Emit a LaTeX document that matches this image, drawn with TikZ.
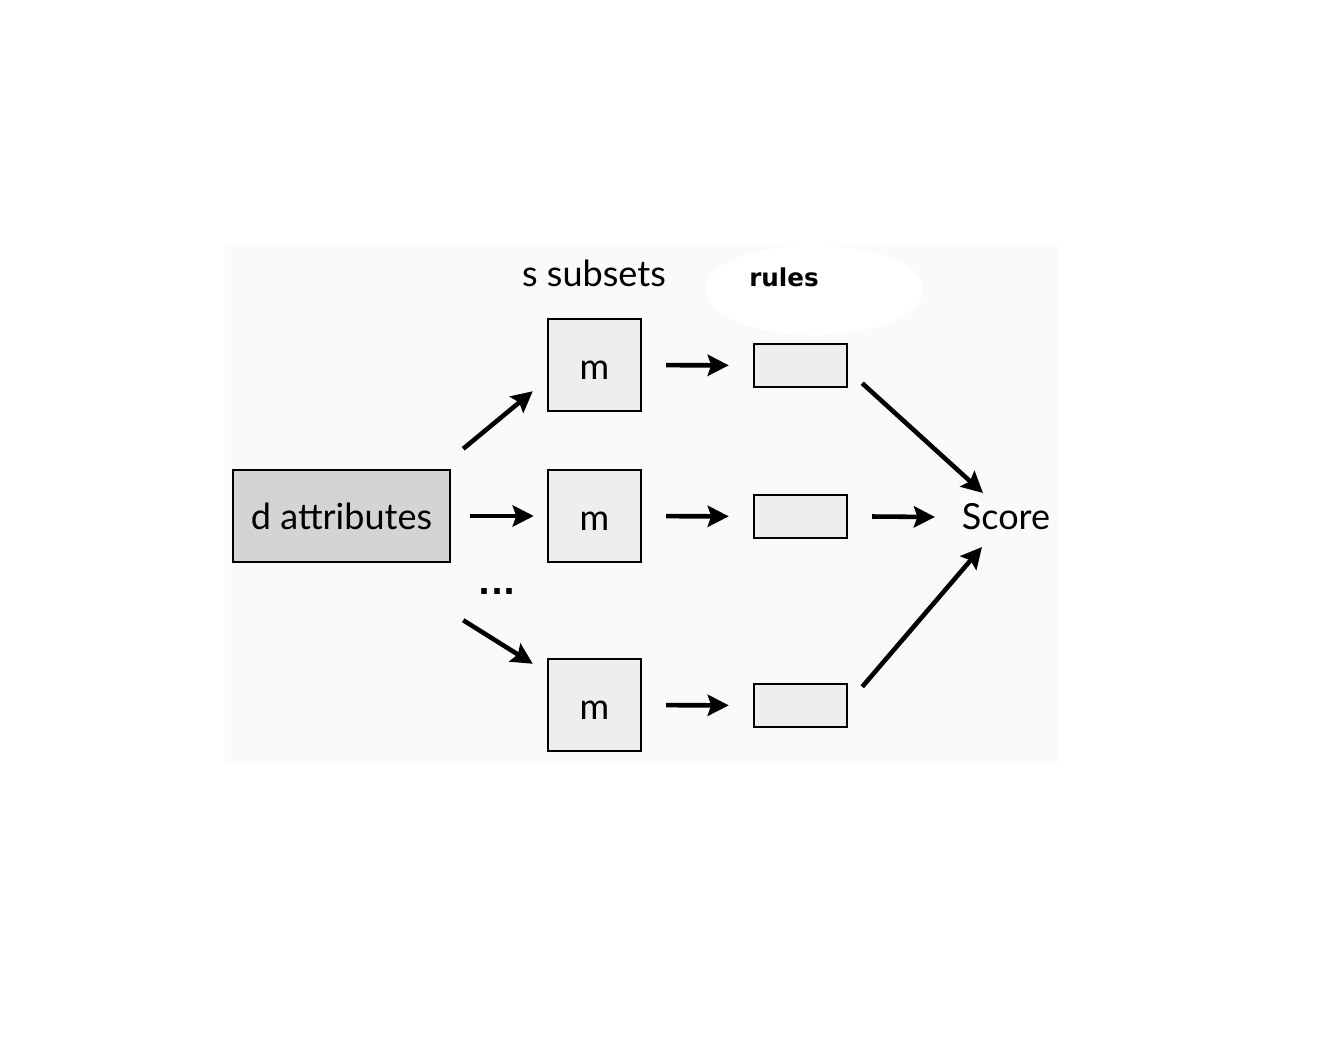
\documentclass[tikz,border=0pt]{standalone}
\usepackage{fontspec}
\setmainfont{Lato}
\newfontfamily\rulesfont{DejaVu Sans}
\usetikzlibrary{arrows.meta}
\definecolor{attrGray}{HTML}{D4D4D4}
\definecolor{boxGray}{HTML}{EEEDF0}
\definecolor{panelGray}{HTML}{FAFAFA}
\tikzstyle{recNode} = [rectangle, minimum width=1.86cm, minimum height=1.84cm, text centered, draw=black, line width=1.4pt, fill=boxGray, inner sep=0pt, text height=16pt, text depth=0pt]
\tikzstyle{attrNode} = [recNode, minimum width=4.34cm, fill=attrGray, text height=, text depth=]
\tikzstyle{ruleNode} = [recNode, minimum height=0.86cm]
\tikzstyle{eNode} = [inner sep=0pt, text=black]
\tikzstyle{arrow} = [line width=2.6pt, -{Stealth[length=12pt, width=12pt, inset=2pt]}, draw=black]

\begin{document}
\begin{tikzpicture}[x=0.02cm, y=-0.02cm, font=\fontsize{20.5}{24}\selectfont]
        \useasboundingbox (0,0) rectangle (1342,1052);
        \fill [panelGray] (225,245) rectangle (1058,762);
        \fill [white] (814,290) ellipse (109 and 45);

        \node (attr) [attrNode] at (341.5,516) {d attributes};
        \node (m1) [recNode] at (594.5,365) {m};
        \node (m2) [recNode] at (594.5,516) {m};
        \node (m3) [recNode] at (594.5,705) {m};
        \node (r1) [ruleNode] at (800.5,365.5) {};
        \node (r2) [ruleNode] at (800.5,516.5) {};
        \node (r3) [ruleNode] at (800.5,705.5) {};
        \node (score) [eNode] at (1006,517) {Score};
        \node (subsets) [eNode] at (594,273) {s subsets};
        \node (rules) [eNode, font=\rulesfont\bfseries\fontsize{14}{16}\selectfont] at (784,277) {rules};
        \node (dots) [eNode, font=\rulesfont\bfseries\fontsize{18}{22}\selectfont] at (497,592) {...};

        \draw [arrow] ([shift={(12,-20)}]attr.north east) -- ([shift={(-14,-21)}]m1.south west);
        \draw [arrow, shorten <=0.38cm, shorten >=0.26cm] (attr) -- (m2);
        \draw [arrow] ([shift={(12,57)}]attr.south east) -- ([shift={(-14,6)}]m3.north west);
        \draw [arrow, shorten <=0.48cm, shorten >=0.48cm] (m1) -- (r1);
        \draw [arrow, shorten <=0.48cm, shorten >=0.48cm] (m2) -- (r2);
        \draw [arrow, shorten <=0.48cm, shorten >=0.48cm] (m3) -- (r3);
        \draw [arrow] ([shift={(14,-5)}]r1.south east) -- ([shift={(-23,-24)}]score.center);
        \draw [arrow] ([shift={(24,0)}]r2.east) -- ([shift={(-71,0)}]score.center);
        \draw [arrow] ([shift={(14,4)}]r3.north east) -- ([shift={(-24,30)}]score.center);
    \end{tikzpicture}
\end{document}
